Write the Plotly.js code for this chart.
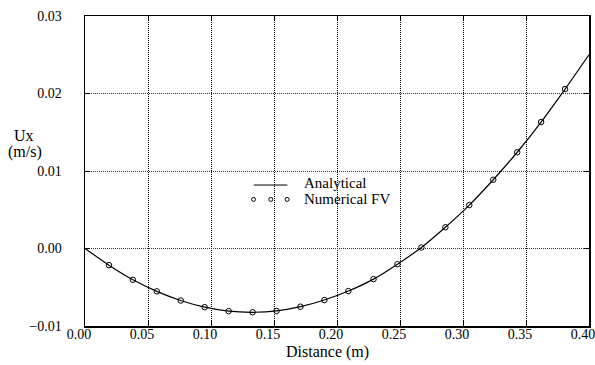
<!DOCTYPE html>
<html>
<head>
<meta charset="utf-8">
<script src="https://cdn.plot.ly/plotly-3.0.1.min.js"></script>
<style>html,body{margin:0;padding:0;background:#fff;}#chart{width:595px;height:365px;}</style>
</head>
<body>
<div id="chart"></div>
<script>
// Numerical FV samples (distance m, Ux m/s)
const numX = [0.019, 0.038, 0.057, 0.076, 0.095, 0.114, 0.133, 0.152, 0.171, 0.190,
              0.209, 0.229, 0.248, 0.267, 0.286, 0.305, 0.324, 0.343, 0.362, 0.381];
const numY = [-0.00215, -0.00404, -0.00553, -0.00671, -0.00757, -0.00808, -0.00823, -0.00806, -0.00751, -0.00665,
              -0.00549, -0.00395, -0.00202, 0.00013, 0.00274, 0.00560, 0.00887, 0.01242, 0.01632, 0.02057];
// Analytical curve
const anaX = [0.000, 0.019, 0.038, 0.057, 0.076, 0.095, 0.114, 0.133, 0.152, 0.171, 0.190,
              0.209, 0.229, 0.248, 0.267, 0.286, 0.305, 0.324, 0.343, 0.362, 0.381, 0.400];
const anaY = [0.0000, -0.00215, -0.00404, -0.00553, -0.00671, -0.00757, -0.00808, -0.00823, -0.00806, -0.00751, -0.00665,
              -0.00549, -0.00395, -0.00202, 0.00013, 0.00274, 0.00560, 0.00887, 0.01242, 0.01632, 0.02057, 0.02500];
const xTicks = [0, 0.05, 0.10, 0.15, 0.20, 0.25, 0.30, 0.35, 0.40];
const yTicks = [-0.01, 0.00, 0.01, 0.02, 0.03];

const FONT = 'Liberation Serif';

const traces = [
  {x: anaX, y: anaY, mode: 'lines', line: {color: '#000', width: 1.2, shape: 'spline', smoothing: 0.6},
   name: 'Analytical', showlegend: false, hoverinfo: 'skip'},
  {x: numX, y: numY, mode: 'markers', name: 'Numerical FV', showlegend: false,
   marker: {symbol: 'circle-open', size: 5.5, color: '#000', line: {width: 1, color: '#000'}}}
];

function px2x(p){ return (p - 85.3) / 503.7; }
function py2y(p){ return (326.5 - p) / 310.5; }

const legendShapes = [
  {type: 'line', xref: 'paper', yref: 'paper', x0: px2x(254), x1: px2x(287.5), y0: py2y(185.3), y1: py2y(185.3),
   line: {color: '#000', width: 1}}
].concat([253.7, 271, 287.3].map(p => ({
  type: 'circle', xref: 'paper', yref: 'paper', xsizemode: 'pixel', ysizemode: 'pixel',
  xanchor: px2x(p), yanchor: py2y(199.7), x0: -2, x1: 2, y0: -2, y1: 2,
  line: {color: '#000', width: 1}, fillcolor: 'rgba(0,0,0,0)'
})));

const layout = {
  width: 595, height: 365,
  margin: {l: 85, r: 6, t: 16, b: 39, pad: 0},
  paper_bgcolor: '#fff', plot_bgcolor: '#fff',
  showlegend: false,
  xaxis: {
    range: [0, 0.4], tickvals: xTicks, tickformat: '.2f',
    showgrid: true, gridcolor: '#000', gridwidth: 1, griddash: '1px,1px',
    showline: true, linecolor: '#000', linewidth: 1.5, mirror: 'allticks',
    ticks: 'inside', ticklen: 5, tickcolor: '#000', tickwidth: 1,
    ticklabelshift: -6, ticklabelstandoff: -5, ticklabeloverflow: 'allow',
    zeroline: false, tickfont: {family: FONT, size: 14, color: '#000'}
  },
  yaxis: {
    range: [-0.01, 0.03], tickvals: yTicks, tickformat: '.2f',
    showgrid: true, gridcolor: '#333', gridwidth: 1, griddash: '1px,1px',
    showline: true, linecolor: '#000', linewidth: 1.5, mirror: 'allticks',
    ticks: 'inside', ticklen: 5, tickcolor: '#000', tickwidth: 1,
    ticklabelstandoff: 19, ticklabeloverflow: 'allow',
    zeroline: false, tickfont: {family: FONT, size: 14, color: '#000'}
  },
  shapes: legendShapes,
  annotations: [
    {xref: 'paper', yref: 'paper', x: px2x(301.7), y: py2y(183), xanchor: 'left', yanchor: 'middle',
     text: 'Analytical', showarrow: false, font: {family: FONT, size: 15, color: '#000'}},
    {xref: 'paper', yref: 'paper', x: px2x(301.7), y: py2y(199.5), xanchor: 'left', yanchor: 'middle',
     text: 'Numerical FV', showarrow: false, font: {family: FONT, size: 15, color: '#000'}},
    {xref: 'paper', yref: 'paper', x: px2x(327.7), y: py2y(353), xanchor: 'center', yanchor: 'middle',
     text: 'Distance (m)', showarrow: false, font: {family: FONT, size: 16, color: '#000'}},
    {xref: 'paper', yref: 'paper', x: px2x(24), y: py2y(135.5), xanchor: 'center', yanchor: 'middle',
     text: 'Ux', showarrow: false, font: {family: FONT, size: 16, color: '#000'}},
    {xref: 'paper', yref: 'paper', x: px2x(25), y: py2y(152.5), xanchor: 'center', yanchor: 'middle',
     text: '(m/s)', showarrow: false, font: {family: FONT, size: 16, color: '#000'}}
  ]
};

Plotly.newPlot('chart', traces, layout, {staticPlot: true});
</script>
</body>
</html>
